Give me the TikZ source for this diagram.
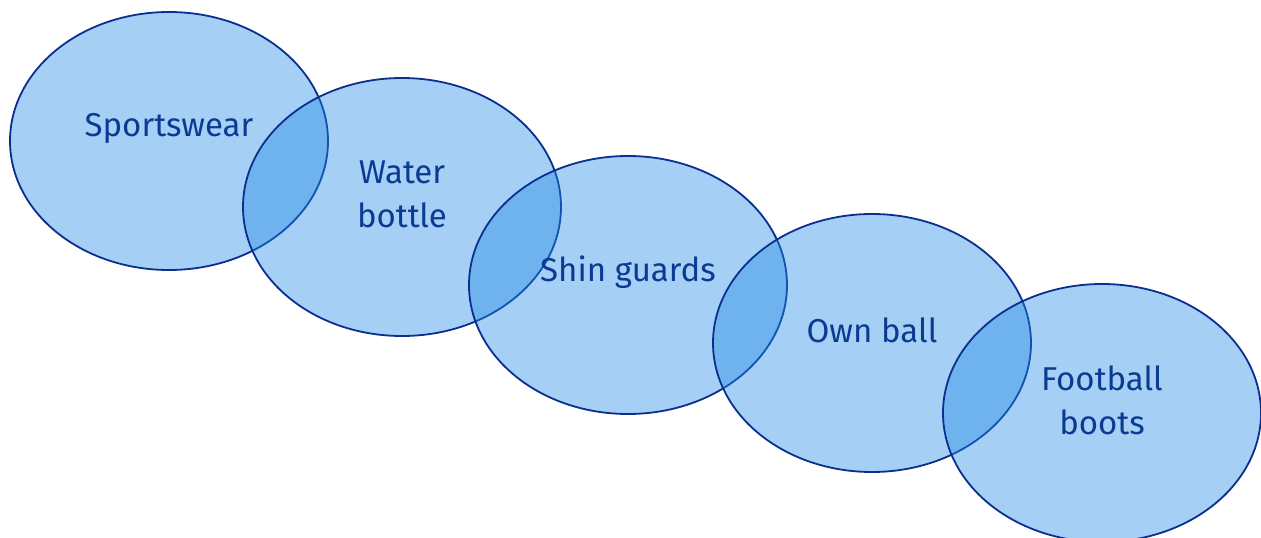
\documentclass[tikz,border=0pt]{standalone}
\usepackage{fontspec}
\setmainfont{Fira Sans}
\usetikzlibrary{shapes.geometric}
\definecolor{bfill}{HTML}{1E88E5}
\definecolor{bline}{HTML}{0B2F8F}
\definecolor{btext}{HTML}{0A3A92}
\tikzset{
  blob/.style={ellipse, draw=bline, line width=1.8pt, fill=bfill, fill opacity=0.4,
    draw opacity=1, minimum width=318pt, minimum height=258pt, inner sep=0pt},
  lbl/.style={text=btext, font=\fontsize{33}{44}\selectfont, align=center, inner sep=0pt}
}
\begin{document}
\begin{tikzpicture}[x=1pt,y=-1pt]
\useasboundingbox (0,0) rectangle (1261,538);
\node[blob] (e1) at (169,141) {};
\node[blob] (e2) at (402,207) {};
\node[blob] (e3) at (628,285) {};
\node[blob] (e4) at (872,343) {};
\node[blob] (e5) at (1102,413) {};
\node[lbl] (t1) at (169,128) {Sportswear};
\node[lbl] (t2) at (402,194) {Water\\bottle};
\node[lbl] (t3) at (628,272) {Shin guards};
\node[lbl] (t4) at (872,330) {Own ball};
\node[lbl] (t5) at (1102,400) {Football\\boots};
\end{tikzpicture}
\end{document}
